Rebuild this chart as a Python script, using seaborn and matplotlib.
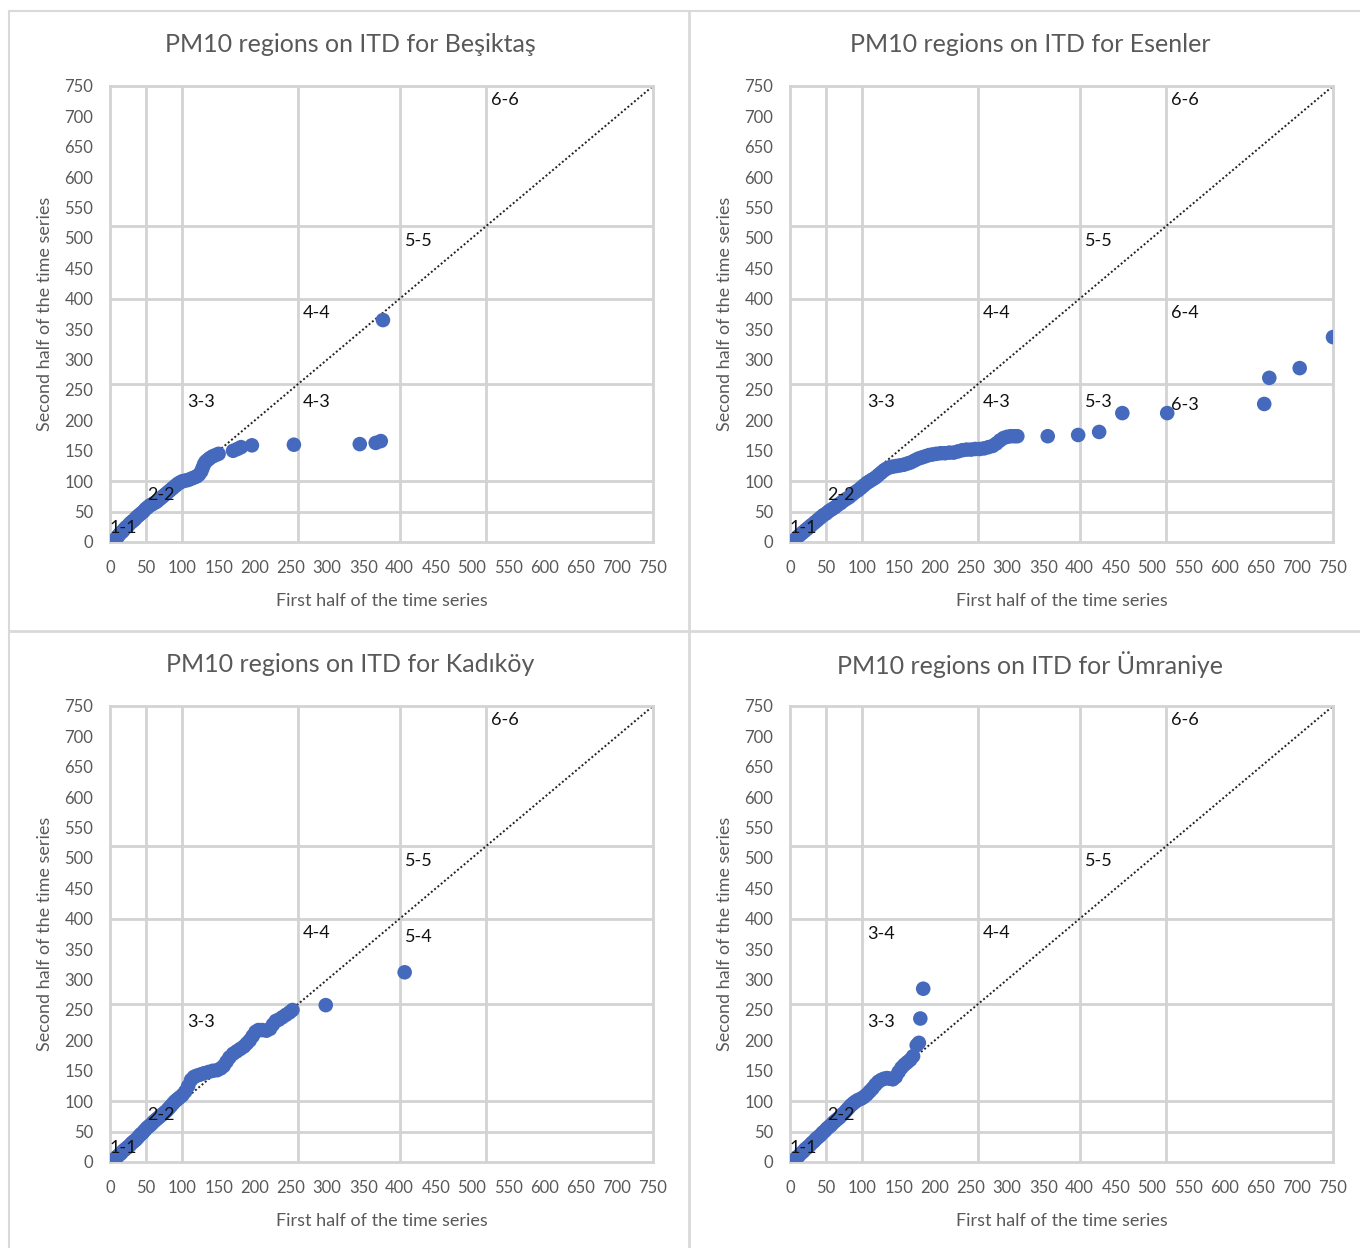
import numpy as np
import pandas as pd
import matplotlib
matplotlib.use("Agg")
import matplotlib.pyplot as plt
import seaborn as sns
from matplotlib.lines import Line2D

# PM10 index thresholds used as region borders
thresholds = [50, 100, 260, 400, 520]
ticks = list(range(0, 751, 50))

# quantile pairs (first half, second half)
bes_x = [3, 6, 8, 10, 12, 14, 17, 19, 22, 25, 28, 31, 34, 37, 40, 43, 46, 49, 52, 55, 58, 61, 64, 67, 70,
         73, 76, 79, 82, 85, 88, 91, 94, 97, 100, 104, 108, 112, 116, 120, 123, 126, 128, 130, 132, 135,
         138, 142, 146, 150, 170, 176, 181, 196, 254, 345, 367, 374, 377]
bes_y = [0, 2, 5, 8, 11, 14, 17, 20, 24, 27, 31, 34, 37, 41, 44, 47, 50, 54, 57, 60, 62, 64, 66, 69, 72,
         75, 78, 81, 84, 87, 90, 93, 96, 98, 100, 101, 102, 104, 106, 108, 111, 116, 122, 128, 132, 135,
         138, 141, 143, 145, 150, 153, 156, 159, 160, 161, 163, 166, 365]

esn_x = [3, 6, 9, 12, 15, 18, 21, 24, 27, 30, 34, 38, 42, 46, 50, 54, 58, 62, 66, 70, 74, 78, 82, 86, 90,
         94, 98, 102, 106, 110, 114, 118, 122, 126, 130, 134, 138, 142, 147, 152, 157, 162, 167, 172, 177,
         182, 187, 192, 197, 202, 208, 214, 220, 226, 232, 238, 244, 250, 256, 262, 268, 274, 280, 285,
         290, 295, 300, 305, 310, 314, 356, 398, 427, 459, 521, 655, 662, 704, 750]
esn_y = [0, 3, 6, 10, 13, 16, 19, 22, 25, 28, 32, 36, 40, 44, 47, 51, 54, 57, 61, 64, 68, 71, 74, 78, 82,
         85, 89, 93, 97, 100, 103, 106, 110, 114, 118, 121, 123, 124, 125, 126, 127, 129, 131, 134, 137,
         139, 141, 143, 144, 145, 146, 146, 147, 147, 149, 151, 152, 152, 153, 153, 154, 156, 158, 162,
         167, 171, 173, 174, 174, 174, 174, 176, 181, 212, 212, 227, 270, 286, 337]

kad_x = [3, 6, 9, 12, 15, 18, 21, 24, 27, 30, 33, 36, 39, 42, 45, 48, 51, 54, 57, 60, 63, 66, 69, 72, 75,
         78, 81, 84, 87, 90, 93, 96, 100, 104, 108, 112, 116, 120, 125, 130, 136, 142, 148, 153, 157, 161,
         165, 170, 175, 180, 185, 189, 193, 197, 201, 205, 210, 216, 221, 225, 229, 233, 238, 243, 248,
         252, 298, 407]
kad_y = [1, 4, 8, 11, 14, 18, 21, 24, 27, 31, 34, 37, 41, 45, 48, 52, 56, 59, 62, 66, 69, 72, 75, 78, 81,
         84, 88, 92, 96, 100, 103, 106, 110, 116, 125, 135, 140, 142, 144, 146, 148, 150, 151, 154, 158, 165,
         172, 178, 182, 186, 190, 195, 200, 207, 214, 217, 217, 216, 219, 226, 232, 234, 238, 242, 246,
         250, 258, 312]

umr_x = [3, 6, 9, 12, 15, 18, 21, 24, 27, 30, 33, 36, 39, 42, 45, 48, 51, 54, 57, 60, 63, 66, 69, 72, 75,
         78, 81, 84, 87, 90, 94, 98, 102, 106, 110, 114, 118, 122, 126, 130, 134, 138, 142, 146, 150, 154,
         158, 162, 166, 170, 175, 178, 180, 184]
umr_y = [0, 3, 7, 10, 14, 17, 21, 24, 27, 31, 34, 38, 41, 44, 48, 51, 55, 58, 61, 65, 68, 71, 74, 78, 81,
         85, 89, 93, 96, 99, 102, 104, 107, 111, 116, 121, 127, 132, 135, 137, 138, 137, 136, 140, 148, 155,
         160, 164, 168, 174, 192, 196, 236, 285]

# region labels: (text, x, y)
labels_common = [("1-1", 19, 23), ("2-2", 70, 77), ("3-3", 126, 230), ("4-4", 286, 377),
                 ("5-5", 427, 495), ("6-6", 545, 727)]
labels_extra = {
    "Beşiktaş": [("4-3", 286, 230)],
    "Esenler": [("4-3", 286, 230), ("5-3", 427, 230), ("6-3", 546, 225), ("6-4", 546, 377)],
    "Kadıköy": [("5-4", 427, 370)],
    "Ümraniye": [("3-4", 126, 375)],
}

panels = [("Beşiktaş", bes_x, bes_y), ("Esenler", esn_x, esn_y),
          ("Kadıköy", kad_x, kad_y), ("Ümraniye", umr_x, umr_y)]

sns.set_theme(style="white")
plt.rcParams["font.family"] = ["Lato", "DejaVu Sans"]

W, H = 1360, 1248
fig = plt.figure(figsize=(W / 100, H / 100), dpi=100)

grid_col = "#d3d3d3"
blue = "#4569bd"
txt_col = "#595959"

# pixel boxes of the four plot areas (left, top)
ax_left = [110, 790, 110, 790]
ax_top = [86, 86, 706, 706]
ax_w, ax_h = 543, 456
title_x = [350, 1030, 350, 1030]
title_y = [45, 45, 665, 665]

for i, (name, xs, ys) in enumerate(panels):
    ax = fig.add_axes([ax_left[i] / W, 1 - (ax_top[i] + ax_h) / H, ax_w / W, ax_h / H])
    df = pd.DataFrame({"first": xs, "second": ys})
    for t in thresholds:
        ax.axvline(t, color=grid_col, lw=2, zorder=0)
        ax.axhline(t, color=grid_col, lw=2, zorder=0)
    ax.plot([0, 750], [0, 750], color="#222222", ls=(0, (1, 1.2)), lw=1.4, zorder=2)
    sns.scatterplot(data=df, x="first", y="second", ax=ax, color=blue, s=110,
                    edgecolor="none", zorder=3, legend=False)
    for lab, lx, ly in labels_common + labels_extra[name]:
        ax.text(lx, ly, lab, ha="center", va="center", fontsize=13, color="#111111", zorder=4)
    ax.set_xlim(0, 750)
    ax.set_ylim(0, 750)
    ax.set_xticks(ticks)
    ax.set_yticks(ticks)
    ax.tick_params(axis="x", length=0, labelsize=12, labelcolor=txt_col, pad=13)
    ax.tick_params(axis="y", length=0, labelsize=12, labelcolor=txt_col, pad=12)
    for sp in ax.spines.values():
        sp.set_color(grid_col)
        sp.set_linewidth(2)
    ax.set_xlabel("First half of the time series", fontsize=13, color=txt_col, labelpad=12)
    ax.set_ylabel("Second half of the time series", fontsize=13, color=txt_col, labelpad=8)
    fig.text(title_x[i] / W, 1 - title_y[i] / H, "PM10 regions on ITD for " + name,
             ha="center", va="center", fontsize=18, color=txt_col)

# panel borders
border = "#d9d9d9"
fig.add_artist(Line2D([9 / W, 9 / W], [0, 1 - 11 / H], transform=fig.transFigure, color=border, lw=1.5))
fig.add_artist(Line2D([689 / W, 689 / W], [0, 1 - 11 / H], transform=fig.transFigure, color=border, lw=2))
fig.add_artist(Line2D([9 / W, 1], [1 - 11 / H, 1 - 11 / H], transform=fig.transFigure, color=border, lw=1.5))
fig.add_artist(Line2D([9 / W, 1], [1 - 631 / H, 1 - 631 / H], transform=fig.transFigure, color=border, lw=2))

fig.savefig("out.png", dpi=100)
